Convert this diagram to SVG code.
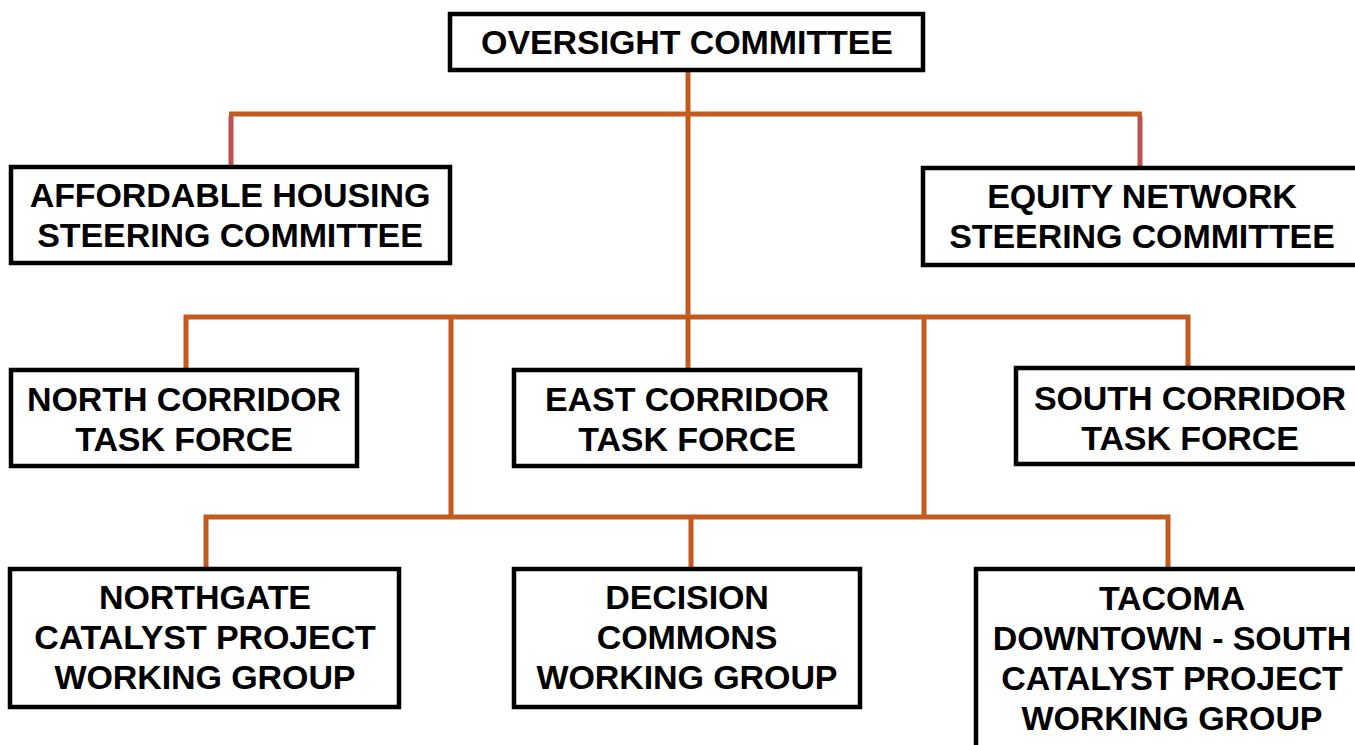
<svg xmlns="http://www.w3.org/2000/svg" width="1355" height="745" viewBox="0 0 1355 745">
<style>
.box{fill:#fff;stroke:#000;stroke-width:4.5}
.t{font-family:"Liberation Sans",Arial,sans-serif;font-weight:bold;font-size:34px;fill:#000;text-anchor:middle;letter-spacing:-0.1px}
.c{fill:none;stroke:#C55A1E;stroke-width:5}
.r{fill:none;stroke:#C0504D;stroke-width:5}
</style>
<rect width="1355" height="745" fill="#fff"/>
<g id="connectors">
<path class="c" d="M688 70 V317"/>
<path class="c" d="M229 114 H1142"/>
<path class="r" d="M231 116 V166"/>
<path class="r" d="M1140 116 V167"/>
<path class="c" d="M186 369 V317 H1188 V367"/>
<path class="c" d="M688 317 V369"/>
<path class="c" d="M451 317 V517"/>
<path class="c" d="M924 317 V517"/>
<path class="c" d="M206 568 V517 H1168 V568"/>
<path class="c" d="M691 517 V568"/>
</g>
<g id="oversight">
<rect class="box" x="450" y="14" width="473" height="56"/>
<text class="t" x="687" y="54">OVERSIGHT COMMITTEE</text>
</g>
<g id="affordable">
<rect class="box" x="11" y="167" width="439" height="96"/>
<text class="t" x="230" y="207">AFFORDABLE HOUSING</text>
<text class="t" x="230" y="247">STEERING COMMITTEE</text>
</g>
<g id="equity">
<rect class="box" x="923" y="168" width="480" height="97"/>
<text class="t" x="1142" y="208">EQUITY NETWORK</text>
<text class="t" x="1142" y="248">STEERING COMMITTEE</text>
</g>
<g id="north">
<rect class="box" x="11" y="370" width="346" height="96"/>
<text class="t" x="184" y="411">NORTH CORRIDOR</text>
<text class="t" x="184" y="451">TASK FORCE</text>
</g>
<g id="east">
<rect class="box" x="514" y="370" width="346" height="96"/>
<text class="t" x="687" y="411">EAST CORRIDOR</text>
<text class="t" x="687" y="451">TASK FORCE</text>
</g>
<g id="south">
<rect class="box" x="1016" y="368" width="400" height="96"/>
<text class="t" x="1190" y="410">SOUTH CORRIDOR</text>
<text class="t" x="1190" y="450">TASK FORCE</text>
</g>
<g id="northgate">
<rect class="box" x="10" y="569" width="389" height="138"/>
<text class="t" x="205" y="609">NORTHGATE</text>
<text class="t" x="205" y="649">CATALYST PROJECT</text>
<text class="t" x="205" y="689">WORKING GROUP</text>
</g>
<g id="decision">
<rect class="box" x="514" y="569" width="346" height="138"/>
<text class="t" x="687" y="609">DECISION</text>
<text class="t" x="687" y="649">COMMONS</text>
<text class="t" x="687" y="689">WORKING GROUP</text>
</g>
<g id="tacoma">
<rect class="box" x="976" y="569" width="440" height="200"/>
<text class="t" x="1172" y="610">TACOMA</text>
<text class="t" x="1172" y="650">DOWNTOWN - SOUTH</text>
<text class="t" x="1172" y="690">CATALYST PROJECT</text>
<text class="t" x="1172" y="730">WORKING GROUP</text>
</g>
</svg>
